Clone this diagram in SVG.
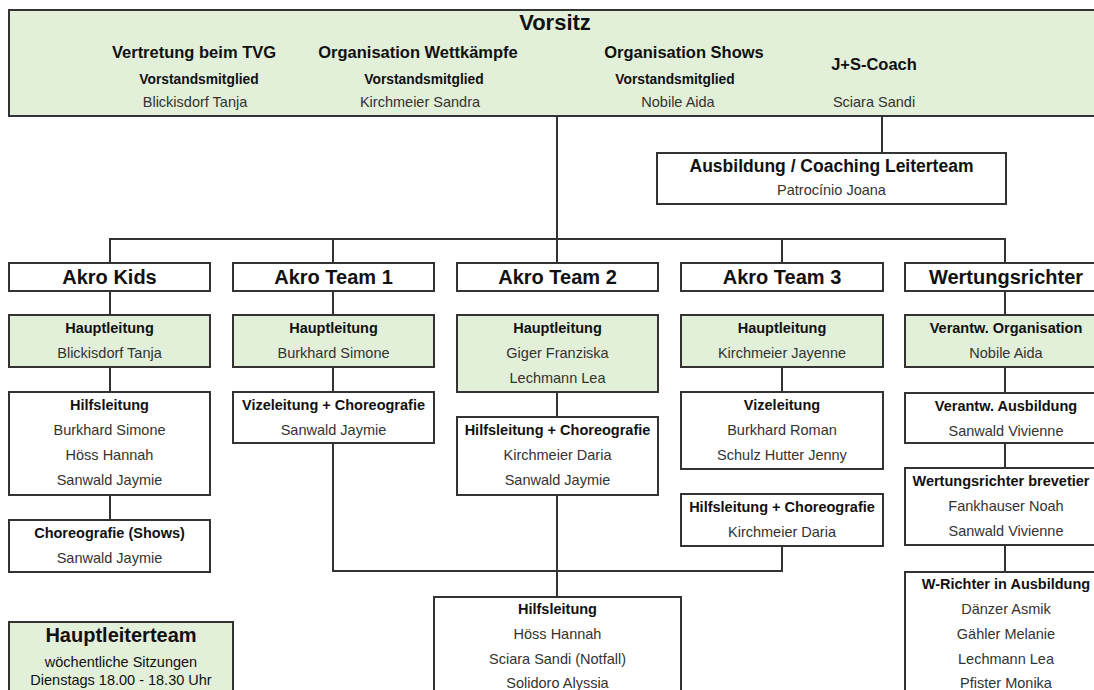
<svg xmlns="http://www.w3.org/2000/svg" width="1094" height="690" viewBox="0 0 1094 690">
<style>
text{font-family:"Liberation Sans",Arial,sans-serif;text-anchor:middle}
.b{fill:#fff;stroke:#333;stroke-width:2}
.g{fill:#e2efd9;stroke:#333;stroke-width:2}
.c{fill:none;stroke:#333;stroke-width:2}
.t{font-size:20px;font-weight:bold;fill:#111}
.h{font-size:14.5px;font-weight:bold;fill:#111}
.n{font-size:14.5px;fill:#333}
.h2{font-size:16.5px;font-weight:bold;fill:#111}
.v{font-size:13.8px;font-weight:bold;fill:#111}
</style>
<rect width="1094" height="690" fill="#fff"/>
<g id="connectors">
<path class="c" d="M557 116V263M882 116V153M110 263V239H1005V263M333 239V263M782 239V263"/>
<path class="c" d="M110 291V315M110 367V392M110 495V520"/>
<path class="c" d="M333 291V315M333 367V392M333 443V571H782V546"/>
<path class="c" d="M557 392V417M557 495V597M782 367V392"/>
<path class="c" d="M1005 291V315M1005 367V393M1005 443V468M1005 545V572"/>
</g>
<g id="vorsitz">
<rect class="g" x="9" y="10" width="1110" height="106"/>
<text x="555" y="30" style="font-size:22px;font-weight:bold;fill:#111">Vorsitz</text>
<text class="h2" x="194" y="58">Vertretung beim TVG</text>
<text class="h2" x="418" y="58">Organisation Wettkämpfe</text>
<text class="h2" x="684" y="58">Organisation Shows</text>
<text class="h2" x="874" y="70">J+S-Coach</text>
<text class="v" x="199" y="84">Vorstandsmitglied</text>
<text class="v" x="424" y="84">Vorstandsmitglied</text>
<text class="v" x="675" y="84">Vorstandsmitglied</text>
<text class="n" x="195" y="107">Blickisdorf Tanja</text>
<text class="n" x="420" y="107">Kirchmeier Sandra</text>
<text class="n" x="678" y="107">Nobile Aida</text>
<text class="n" x="874" y="107">Sciara Sandi</text>
</g>
<g id="ausbildung">
<rect class="b" x="657" y="153" width="349" height="51"/>
<text x="831.5" y="172" style="font-size:17.5px;font-weight:bold;fill:#111">Ausbildung / Coaching Leiterteam</text>
<text class="n" x="831.5" y="195">Patrocínio Joana</text>
</g>
<g id="akro-kids">
<rect class="b" x="9" y="263" width="201" height="28"/>
<text class="t" x="109.5" y="284">Akro Kids</text>
</g>
<g id="akro-team-1">
<rect class="b" x="233" y="263" width="201" height="28"/>
<text class="t" x="333.5" y="284">Akro Team 1</text>
</g>
<g id="akro-team-2">
<rect class="b" x="457" y="263" width="201" height="28"/>
<text class="t" x="557.5" y="284">Akro Team 2</text>
</g>
<g id="akro-team-3">
<rect class="b" x="681" y="263" width="202" height="28"/>
<text class="t" x="782" y="284">Akro Team 3</text>
</g>
<g id="wertungsrichter">
<rect class="b" x="905" y="263" width="202" height="28"/>
<text class="t" x="1006" y="284">Wertungsrichter</text>
</g>
<g id="kids-haupt">
<rect class="g" x="9" y="315" width="201" height="52"/>
<text class="h" x="109.5" y="333">Hauptleitung</text>
<text class="n" x="109.5" y="358">Blickisdorf Tanja</text>
</g>
<g id="kids-hilfs">
<rect class="b" x="9" y="392" width="201" height="103"/>
<text class="h" x="109.5" y="410">Hilfsleitung</text>
<text class="n" x="109.5" y="435">Burkhard Simone</text>
<text class="n" x="109.5" y="460">Höss Hannah</text>
<text class="n" x="109.5" y="485">Sanwald Jaymie</text>
</g>
<g id="kids-choreo">
<rect class="b" x="9" y="520" width="201" height="52"/>
<text class="h" x="109.5" y="538">Choreografie (Shows)</text>
<text class="n" x="109.5" y="563">Sanwald Jaymie</text>
</g>
<g id="t1-haupt">
<rect class="g" x="233" y="315" width="201" height="52"/>
<text class="h" x="333.5" y="333">Hauptleitung</text>
<text class="n" x="333.5" y="358">Burkhard Simone</text>
</g>
<g id="t1-vize">
<rect class="b" x="233" y="392" width="201" height="51"/>
<text class="h" x="333.5" y="410">Vizeleitung + Choreografie</text>
<text class="n" x="333.5" y="435">Sanwald Jaymie</text>
</g>
<g id="t2-haupt">
<rect class="g" x="457" y="315" width="201" height="77"/>
<text class="h" x="557.5" y="333">Hauptleitung</text>
<text class="n" x="557.5" y="358">Giger Franziska</text>
<text class="n" x="557.5" y="383">Lechmann Lea</text>
</g>
<g id="t2-hilfs">
<rect class="b" x="457" y="417" width="201" height="78"/>
<text class="h" x="557.5" y="435">Hilfsleitung + Choreografie</text>
<text class="n" x="557.5" y="460">Kirchmeier Daria</text>
<text class="n" x="557.5" y="485">Sanwald Jaymie</text>
</g>
<g id="t3-haupt">
<rect class="g" x="681" y="315" width="202" height="52"/>
<text class="h" x="782" y="333">Hauptleitung</text>
<text class="n" x="782" y="358">Kirchmeier Jayenne</text>
</g>
<g id="t3-vize">
<rect class="b" x="681" y="392" width="202" height="77"/>
<text class="h" x="782" y="410">Vizeleitung</text>
<text class="n" x="782" y="435">Burkhard Roman</text>
<text class="n" x="782" y="460">Schulz Hutter Jenny</text>
</g>
<g id="t3-hilfs">
<rect class="b" x="681" y="494" width="202" height="52"/>
<text class="h" x="782" y="512">Hilfsleitung + Choreografie</text>
<text class="n" x="782" y="537">Kirchmeier Daria</text>
</g>
<g id="wr-org">
<rect class="g" x="905" y="315" width="202" height="52"/>
<text class="h" x="1006" y="333">Verantw. Organisation</text>
<text class="n" x="1006" y="358">Nobile Aida</text>
</g>
<g id="wr-ausb">
<rect class="b" x="905" y="393" width="202" height="50"/>
<text class="h" x="1006" y="411">Verantw. Ausbildung</text>
<text class="n" x="1006" y="436">Sanwald Vivienne</text>
</g>
<g id="wr-brev">
<rect class="b" x="905" y="468" width="202" height="77"/>
<text class="h" x="1001" y="486">Wertungsrichter brevetier</text>
<text class="n" x="1006" y="511">Fankhauser Noah</text>
<text class="n" x="1006" y="536">Sanwald Vivienne</text>
</g>
<g id="wr-ausbildung">
<rect class="b" x="905" y="572" width="202" height="140"/>
<text class="h" x="1006" y="589">W-Richter in Ausbildung</text>
<text class="n" x="1006" y="614">Dänzer Asmik</text>
<text class="n" x="1006" y="639">Gähler Melanie</text>
<text class="n" x="1006" y="664">Lechmann Lea</text>
<text class="n" x="1006" y="688">Pfister Monika</text>
</g>
<g id="hilfsleitung-pool">
<rect class="b" x="434" y="597" width="247" height="120"/>
<text class="h" x="557.5" y="614">Hilfsleitung</text>
<text class="n" x="557.5" y="639">Höss Hannah</text>
<text class="n" x="557.5" y="664">Sciara Sandi (Notfall)</text>
<text class="n" x="557.5" y="688">Solidoro Alyssia</text>
</g>
<g id="hauptleiterteam">
<rect class="g" x="9" y="622" width="224" height="90"/>
<text class="t" x="121" y="642">Hauptleiterteam</text>
<text class="n" x="121" y="667" style="fill:#111">wöchentliche Sitzungen</text>
<text class="n" x="121" y="685" style="fill:#111">Dienstags 18.00 - 18.30 Uhr</text>
</g>
</svg>
